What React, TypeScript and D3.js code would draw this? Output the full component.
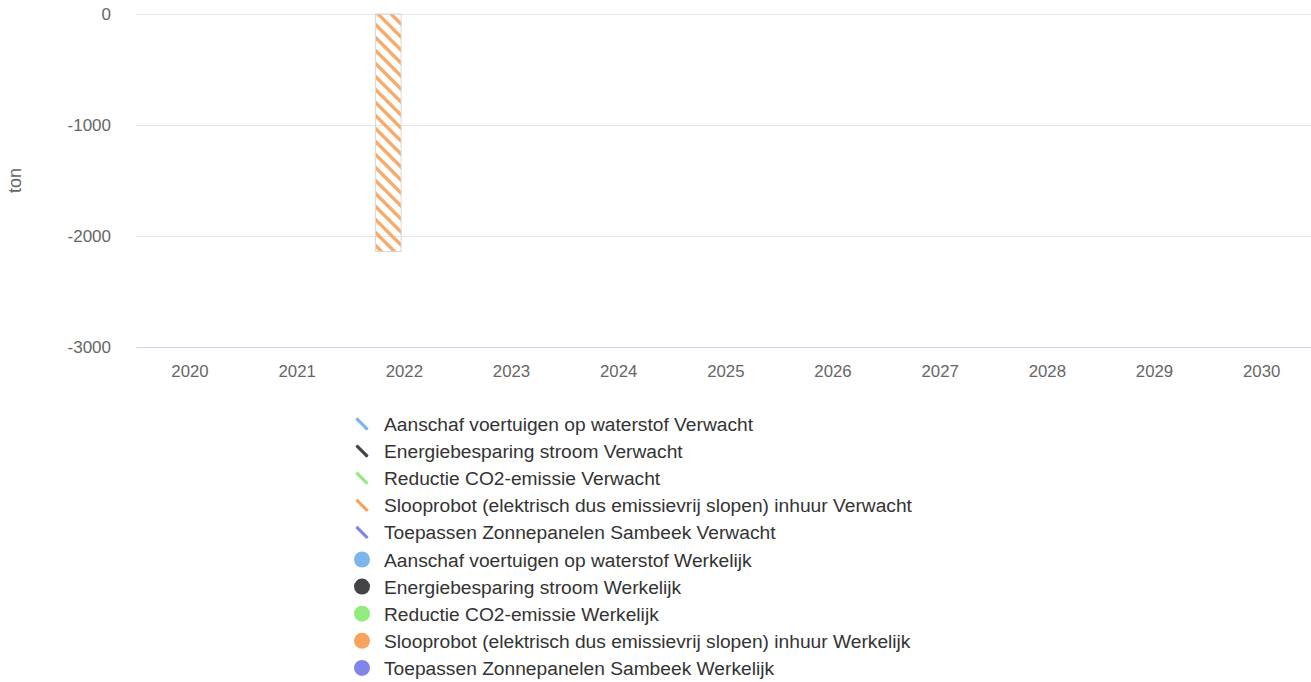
import React, { useEffect } from "react";
import * as d3 from "d3";

const categories = ["2020", "2021", "2022", "2023", "2024", "2025", "2026", "2027", "2028", "2029", "2030"];
const measures = [
  "Aanschaf voertuigen op waterstof",
  "Energiebesparing stroom",
  "Reductie CO2-emissie",
  "Slooprobot (elektrisch dus emissievrij slopen) inhuur",
  "Toepassen Zonnepanelen Sambeek",
];
const colors = ["#7cb5ec", "#434348", "#90ed7d", "#f7a35c", "#8085e9"];
const stacks = ["Verwacht", "Werkelijk"];
// values per measure per year (null = no data)
const verwacht: (number | null)[][] = [
  [null, null, null, null, null, null, null, null, null, null, null],
  [null, null, null, null, null, null, null, null, null, null, null],
  [null, null, null, null, null, null, null, null, null, null, null],
  [null, null, -2140, null, null, null, null, null, null, null, null],
  [null, null, null, null, null, null, null, null, null, null, null],
];
const werkelijk: (number | null)[][] = [
  [null, null, null, null, null, null, null, null, null, null, null],
  [null, null, null, null, null, null, null, null, null, null, null],
  [null, null, null, null, null, null, null, null, null, null, null],
  [null, null, null, null, null, null, null, null, null, null, null],
  [null, null, null, null, null, null, null, null, null, null, null],
];
const yTicks = [0, -1000, -2000, -3000];

const W = 1311;
const H = 682;
const FONT = "'Liberation Sans', Arial, Helvetica, sans-serif";

export default function App() {
  useEffect(() => {
    document.body.style.margin = "0";
  }, []);

  const plotLeft = 136.4;
  const plotRightScale = 1315.3;
  const plotRight = 1311;
  const plotTop = 14;
  const plotBottom = 347;

  const x = d3.scaleBand<string>().domain(categories).range([plotLeft, plotRightScale]).paddingInner(0).paddingOuter(0);
  const bw = x.bandwidth();
  const groupPad = 0.2 * bw;
  const xs = d3.scaleBand<string>().domain(stacks).range([groupPad, bw - groupPad]).paddingInner(0);
  const colW = xs.bandwidth();
  const barW = colW * 0.8;
  const y = d3.scaleLinear().domain([-3000, 0]).range([plotBottom, plotTop]);

  const bars: { key: string; x: number; y0: number; y1: number; color: number; pattern: boolean }[] = [];
  [verwacht, werkelijk].forEach((data, si) => {
    categories.forEach((cat, ci) => {
      let neg = 0;
      let pos = 0;
      data.forEach((series, mi) => {
        const v = series[ci];
        if (v == null || v === 0) return;
        let a: number, b: number;
        if (v < 0) {
          a = neg;
          b = neg + v;
          neg = b;
        } else {
          a = pos;
          b = pos + v;
          pos = b;
        }
        bars.push({
          key: `${si}-${ci}-${mi}`,
          x: (x(cat) as number) + (xs(stacks[si]) as number) + (colW - barW) / 2,
          y0: y(a),
          y1: y(b),
          color: mi,
          pattern: si === 0,
        });
      });
    });
  });

  const legendItems = [
    ...measures.map((m, i) => ({ label: `${m} Verwacht`, color: i, pattern: true })),
    ...measures.map((m, i) => ({ label: `${m} Werkelijk`, color: i, pattern: false })),
  ];

  return (
    <svg width={W} height={H} style={{ display: "block", fontFamily: FONT }}>
      <defs>
        {colors.map((c, i) => (
          <pattern
            key={i}
            id={`pat${i}`}
            patternUnits="userSpaceOnUse"
            width={10}
            height={10}
            patternTransform="scale(1.3)"
          >
            <path
              d="M 0 0 L 10 10 M 9 -1 L 11 1 M -1 9 L 1 11"
              stroke={c}
              strokeWidth={2.6}
              strokeOpacity={0.9}
              fill="none"
            />
          </pattern>
        ))}
        {legendItems.map((it, i) => (
          <clipPath key={i} id={`lclip${i}`}>
            <circle cx={362} cy={424 + i * 27.1} r={8} />
          </clipPath>
        ))}
      </defs>
      <rect width={W} height={H} fill="#ffffff" />
      {yTicks.map((t) => (
        <g key={t}>
          {t !== -3000 && (
            <line x1={plotLeft} x2={plotRight} y1={y(t) + 0.5} y2={y(t) + 0.5} stroke="#e6e6e6" />
          )}
          <text x={111} y={y(t) + 6} textAnchor="end" fontSize={17} fill="#666666">
            {t}
          </text>
        </g>
      ))}
      <line x1={plotLeft} x2={plotRight} y1={plotBottom + 0.5} y2={plotBottom + 0.5} stroke="#ccd6eb" />
      {categories.map((c) => (
        <text
          key={c}
          x={(x(c) as number) + bw / 2}
          y={377}
          textAnchor="middle"
          fontSize={16.8}
          fill="#666666"
        >
          {c}
        </text>
      ))}
      <text
        transform={`translate(21,${(plotTop + plotBottom) / 2}) rotate(-90)`}
        textAnchor="middle"
        fontSize={18}
        fill="#666666"
      >
        ton
      </text>
      {bars.map((b) => (
        <rect
          key={b.key}
          x={b.x}
          y={Math.min(b.y0, b.y1)}
          width={barW}
          height={Math.abs(b.y1 - b.y0)}
          fill={b.pattern ? `url(#pat${b.color})` : colors[b.color]}
          stroke="#d9d9d9"
          strokeWidth={1}
        />
      ))}
      {legendItems.map((it, i) => {
        const cy = 424 + i * 27.1;
        const cx = 362;
        return (
          <g key={it.label}>
            {it.pattern ? (
              <g clipPath={`url(#lclip${i})`}>
                <line
                  x1={cx - 9}
                  y1={cy - 9}
                  x2={cx + 9}
                  y2={cy + 9}
                  stroke={colors[it.color]}
                  strokeWidth={3.2}
                />
              </g>
            ) : (
              <circle cx={cx} cy={cy} r={8} fill={colors[it.color]} />
            )}
            <text x={384} y={cy + 7} fontSize={19.2} fill="#333333">
              {it.label}
            </text>
          </g>
        );
      })}
    </svg>
  );
}
